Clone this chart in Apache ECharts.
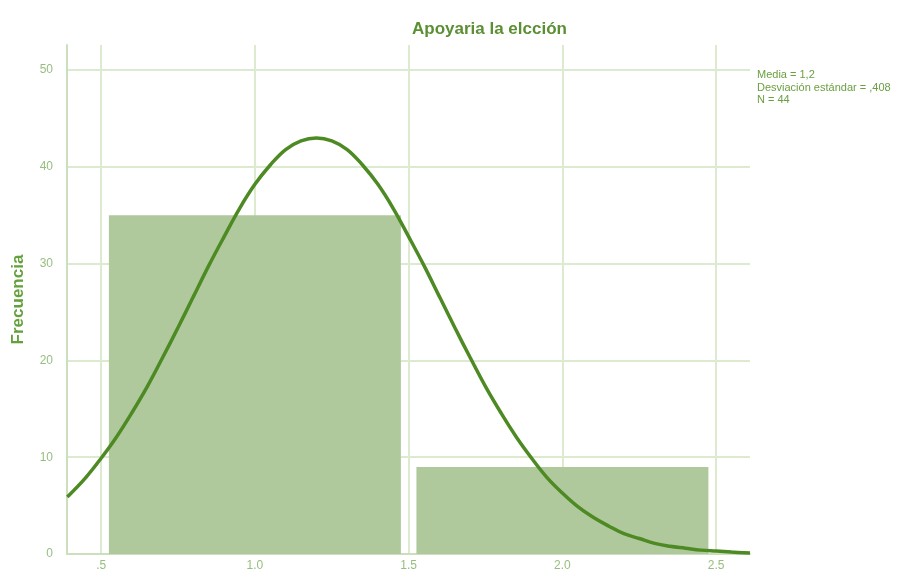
<!DOCTYPE html>
<html><head><meta charset="utf-8">
<script src="https://cdn.jsdelivr.net/npm/echarts@6/dist/echarts.min.js"></script>
<style>html,body{margin:0;padding:0;background:#fff}#c{width:919px;height:573px}</style>
</head><body><div id="c"></div>
<script>
const titleText = 'Apoyaria la elcción';
const yTitle = 'Frecuencia';
const statsLines = ['Media = 1,2', 'Desviación estándar = ,408', 'N = 44'];
const binCenters = [1.0, 2.0];
const binCounts = [35, 9];
const curveX = [0.39, 0.45, 0.5, 0.55, 0.6, 0.65, 0.7, 0.75, 0.8, 0.85, 0.9, 0.95, 1.0, 1.05, 1.1, 1.15, 1.2, 1.25, 1.3, 1.35, 1.4, 1.45, 1.5, 1.55, 1.6, 1.65, 1.7, 1.75, 1.8, 1.85, 1.9, 1.95, 2.0, 2.05, 2.1, 2.15, 2.2, 2.25, 2.3, 2.35, 2.4, 2.45, 2.5, 2.55, 2.61];
const curveY = [5.9, 7.9, 9.9, 12.1, 14.6, 17.3, 20.3, 23.4, 26.6, 29.8, 32.8, 35.7, 38.2, 40.2, 41.8, 42.7, 43.0, 42.7, 41.8, 40.2, 38.2, 35.7, 32.8, 29.8, 26.6, 23.4, 20.3, 17.3, 14.6, 12.1, 9.9, 7.9, 6.3, 4.9, 3.8, 2.9, 2.1, 1.6, 1.1, 0.8, 0.6, 0.4, 0.3, 0.2, 0.1];
const xTickValues = [0.5, 1.0, 1.5, 2.0, 2.5];
const xTickLabels = ['.5', '1.0', '1.5', '2.0', '2.5'];
const yTickValues = [0, 10, 20, 30, 40, 50];
const yTickLabels = ['0', '10', '20', '30', '40', '50'];

const chart = echarts.init(document.getElementById('c'), null, {renderer: 'canvas'});
const gridCol = '#dceacf';
const labelCol = '#98bd80';
chart.setOption({
  animation: false,
  title: {text: titleText, left: 407, top: 16, textStyle: {color: '#5b8f33', fontSize: 17, fontWeight: 'bold', fontFamily: 'Liberation Sans'}},
  grid: {left: 67, right: 169, top: 45, bottom: 19, outerBoundsMode: 'none', containLabel: false},
  xAxis: {
    type: 'value', min: 0.389, max: 2.61,
    axisLine: {show: true, lineStyle: {color: '#cbdfbd', width: 2}},
    axisTick: {show: false, customValues: xTickValues},
    axisLabel: {customValues: xTickValues, color: labelCol, fontSize: 12, margin: 6, fontFamily: 'Liberation Sans',
      formatter: v => { const i = xTickValues.findIndex(t => Math.abs(t - v) < 1e-6); return i >= 0 ? xTickLabels[i] : ''; }},
    splitLine: {show: true, lineStyle: {color: gridCol, width: 2}}
  },
  yAxis: {
    type: 'value', min: 0, max: 52.6,
    name: yTitle, nameLocation: 'middle', nameGap: 40, nameRotate: 90,
    nameTextStyle: {color: '#64a03c', fontSize: 17, fontWeight: 'bold', fontFamily: 'Liberation Sans'},
    axisLine: {show: true, lineStyle: {color: '#cbdfbd', width: 2}},
    axisTick: {show: false, customValues: yTickValues},
    axisLabel: {customValues: yTickValues, color: labelCol, fontSize: 12, margin: 14, fontFamily: 'Liberation Sans',
      formatter: v => { const i = yTickValues.findIndex(t => Math.abs(t - v) < 1e-6); return i >= 0 ? yTickLabels[i] : ''; }},
    splitLine: {show: true, lineStyle: {color: gridCol, width: 2}}
  },
  graphic: [{
    type: 'text', left: 757, top: 69,
    style: {text: statsLines.join('\n'), fill: '#6aa040', font: '11px "Liberation Sans"', lineHeight: 12.5}
  }],
  series: [
    {type: 'bar', data: binCenters.map((c, i) => [c, binCounts[i]]), barWidth: 292,
      itemStyle: {color: '#afc99c'}, z: 2},
    {type: 'line', data: curveX.map((x, i) => [x, curveY[i]]), smooth: 0.4, showSymbol: false,
      lineStyle: {color: '#4d8a24', width: 3.5}, z: 3}
  ]
});
</script></body></html>
